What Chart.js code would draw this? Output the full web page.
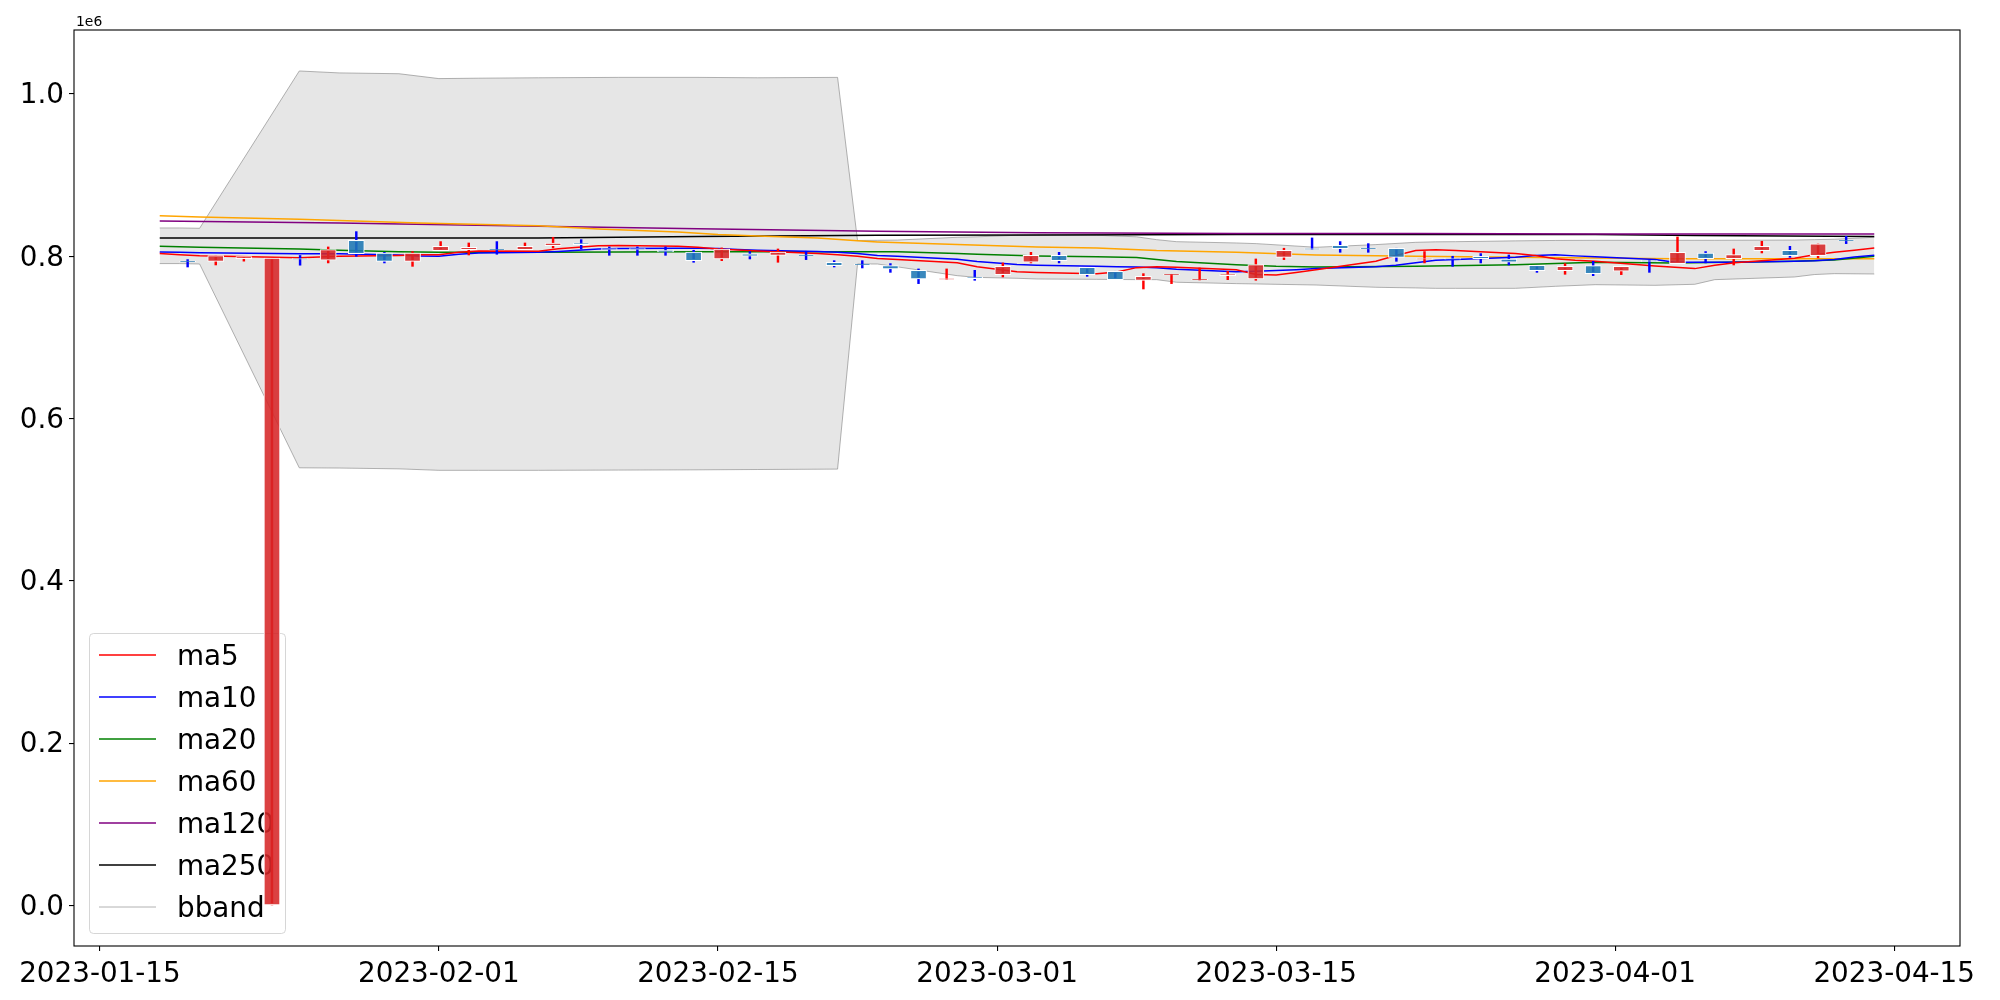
<!DOCTYPE html>
<html>
<head>
<meta charset="utf-8">
<script src="https://cdn.jsdelivr.net/npm/chart.js@4.4.0/dist/chart.umd.min.js"></script>
<style>
  html, body { margin: 0; padding: 0; background: #fff; }
  #wrap { width: 2000px; height: 1000px; }
</style>
</head>
<body>
<div id="wrap"><canvas id="chart" width="2000" height="1000"></canvas></div>
<script>
// x values are days counted from 2023-01-15
const xTickDays = [0, 17, 31, 45, 59, 76, 90];
const xTickLabels = ["2023-01-15", "2023-02-01", "2023-02-15", "2023-03-01", "2023-03-15", "2023-04-01", "2023-04-15"];
const yTickValues = [0, 200000, 400000, 600000, 800000, 1000000];

// trading days (KRX) used by the moving average / band lines
const tradeDays = [3, 4, 5, 10, 11, 12, 15, 16, 17, 18, 19, 22, 23, 24, 25, 26, 29, 30, 31, 32, 33,
  36, 37, 38, 39, 40, 43, 44, 46, 47, 50, 51, 52, 53, 54, 57, 58, 59, 60, 61, 64, 65, 66, 67, 68,
  71, 72, 73, 74, 75, 78, 79, 80, 81, 82, 85, 86, 87, 88, 89];

// candles sit on an evenly spaced grid of their own
const candleFirstDay = 4.4;
const candleStepDays = 1.41;

const opens = [794200, 793800, 797100, 0, 797100, 795100, 819700, 804100, 793800, 807000,
  808200, 808600, 808200, 813100, 816400, 809400, 809400, 807400, 805300, 796700,
  803000, 801200, 801600, 792600, 790100, 788500, 782700, 771600, 774500, 777400,
  792600, 801200, 786400, 781500, 770400, 777000, 770800, 776200, 772000, 798700,
  809400, 813500, 809800, 809900, 796300, 797100, 800000, 796700, 788900, 782300,
  788500, 781500, 794600, 790900, 804100, 797100, 807000, 807400, 800800, 819700];
const closes = [793400, 800800, 799600, 797900, 796300, 808200, 803300, 793800, 804100, 812300,
  811100, 807800, 812300, 816400, 814400, 808600, 808600, 805300, 794600, 809000,
  800000, 805300, 800800, 788500, 789300, 784400, 772000, 772400, 772500, 787600,
  801200, 794600, 777400, 771200, 775300, 777800, 771600, 778200, 789700, 807400,
  808600, 809400, 809000, 798700, 797100, 796300, 797100, 792600, 782300, 787600,
  778600, 787600, 793800, 804900, 797100, 802000, 812300, 800800, 815200, 818900];
const highs = [795900, 800800, 799600, 797900, 801000, 811500, 830400, 804900, 805800, 818100,
  816400, 818100, 816400, 823400, 820500, 811500, 811500, 811500, 807400, 810300,
  805800, 809000, 806200, 794600, 794600, 791000, 784400, 784400, 782700, 791800,
  804900, 804900, 786400, 781500, 778600, 777800, 785600, 781500, 796700, 809900,
  822600, 818100, 815600, 809900, 805800, 800000, 803300, 801600, 788900, 791000,
  793800, 787600, 795100, 823800, 805800, 809000, 818500, 812300, 815200, 824600];
const lows = [786800, 789300, 794000, 0, 789000, 791800, 800000, 791800, 787600, 807000,
  801600, 802500, 808200, 810300, 809000, 801200, 801200, 801200, 792600, 794600,
  796700, 792600, 795900, 786800, 785600, 780200, 766300, 771600, 770400, 774500,
  791800, 791800, 775300, 771200, 759700, 766300, 770800, 771200, 770400, 795900,
  808600, 804900, 804900, 793800, 791800, 787600, 791800, 789300, 780200, 777800,
  776100, 777400, 780200, 790900, 791800, 789300, 804100, 798700, 798000, 815600];

const ma5 = [803300, 802000, 800800, 798200, 799000, 800000, 801000, 801800, 802000, 805000, 806400,
  806200, 809200, 811200, 813000, 813300, 812300, 811000, 809000, 807800, 806600,
  803500, 802000, 800000, 797200, 796000, 792000, 787000, 781000, 780000, 778500, 780500, 786000, 787000, 786500,
  783500, 777500, 777000, 780000, 783500, 794000, 801000, 807000, 808200, 807000,
  803500, 801000, 797000, 795000, 793800, 788000, 786500, 784800, 789000, 792000,
  797500, 802000, 805000, 807500, 810300];
const ma10 = [805300, 805000, 804500, 803000, 803000, 803000, 801500, 800500, 800000, 802500, 804000,
  805000, 806000, 807500, 809000, 809500, 809800, 809800, 809500, 808500, 807500,
  806000, 805000, 803500, 801000, 800000, 796200, 793500, 790000, 789000, 787600, 787200, 786800, 786000, 784000,
  781000, 781500, 782500, 783500, 784800, 787000, 789000, 792000, 795000, 796000,
  798700, 801000, 802000, 800500, 799500, 796000, 792600, 792600, 792600, 792600,
  794000, 794600, 796000, 799000, 801200];

const ma20Days = [3, 5, 10, 12, 15, 17, 22, 26, 30, 40, 43, 44, 47, 50, 52, 53, 54, 57, 59, 61, 66, 71, 75, 79, 85, 87, 89];
const ma20 = [812300, 811000, 809000, 807500, 805700, 805000, 805000, 805300, 805700, 805700, 803300, 802500, 800500,
  799500, 798500, 796000, 793500, 789700, 787600, 786800, 787600, 789700, 792600, 791800, 793800, 795500, 800000];
const ma60Days = [3, 5, 10, 12, 16, 22, 25, 29, 31, 33, 36, 38, 39, 43, 47, 50, 53, 57, 61, 66, 71, 75, 79, 85, 89];
const ma60 = [850000, 848500, 845500, 844000, 841000, 837500, 833500, 830000, 826700, 825000, 822500, 819000, 817700,
  814400, 811500, 810300, 807000, 805000, 801600, 800000, 798700, 797900, 797000, 797000, 797000];
const ma120Days = [3, 12, 22, 30, 39, 47, 57, 66, 75, 89];
const ma120 = [843500, 841000, 837000, 834000, 831000, 829000, 828000, 828000, 827500, 827500];
const ma250Days = [3, 22, 30, 39, 47, 57, 75, 80, 89];
const ma250 = [822600, 822600, 824500, 825900, 826300, 826700, 826700, 825500, 824500];

const bandDays = [3, 4, 5, 10, 12, 15, 17, 19, 22, 26, 30, 33, 37, 38, 39, 40, 43, 44, 46, 47, 50, 52, 53, 54,
  57, 58, 61, 64, 66, 67, 68, 71, 73, 75, 78, 80, 81, 85, 86, 87, 89];
const bandUpper = [834900, 834900, 834500, 1028400, 1026000, 1025000, 1019000, 1019500, 1020000, 1020500, 1020500,
  1020000, 1020500, 819500, 819700, 820000, 823400, 824000, 825900, 826200, 825900, 824000, 820500, 818000,
  816400, 815600, 811100, 814400, 817200, 817800, 818000, 819000, 819500, 819700, 819700, 819700, 819700,
  820000, 820500, 821000, 823400];
const bandLower = [791000, 791000, 790500, 539300, 539000, 538000, 536200, 536200, 536200, 536500, 536800,
  537200, 537700, 790500, 790500, 787000, 776100, 774000, 772900, 772000, 771600, 771200, 771200, 768000,
  766300, 765900, 764600, 761800, 761000, 760500, 760500, 760500, 763000, 765000, 764200, 765500, 771200,
  774500, 777500, 778600, 778200];

const FONT = "DejaVu Sans";
const UP_BODY = "rgba(214,39,40,0.88)";
const DOWN_BODY = "rgba(31,119,180,0.88)";

function toPoints(days, vals) {
  return days.map((d, i) => ({ x: d, y: vals[i] }));
}

const candleDays = opens.map((_, i) => candleFirstDay + i * candleStepDays);
const isUp = opens.map((o, i) => closes[i] >= o);

function lineSet(label, days, vals, color, order) {
  return {
    type: "line", label: label, inLegend: true,
    data: toPoints(days, vals),
    borderColor: color, borderWidth: 1.5,
    pointRadius: 0, tension: 0, fill: false, order: order
  };
}

// legend box drawn inside the plot, under the candles
const boxLegend = {
  id: "boxLegend",
  beforeDatasetsDraw(chart) {
    const ctx = chart.ctx;
    const area = chart.chartArea;
    const items = chart.data.datasets.filter(d => d.inLegend);
    const left = area.left + 15, top = area.bottom - 313, w = 196, h = 300;
    ctx.save();
    ctx.beginPath();
    ctx.roundRect(left + 0.5, top + 0.5, w, h, 4);
    ctx.fillStyle = "rgba(255,255,255,0.8)";
    ctx.fill();
    ctx.strokeStyle = "rgba(204,204,204,0.8)";
    ctx.lineWidth = 1;
    ctx.stroke();
    ctx.font = "27.8px '" + FONT + "'";
    ctx.textBaseline = "middle";
    ctx.fillStyle = "#000";
    items.forEach((d, i) => {
      const y = top + 22 + i * 42;
      ctx.beginPath();
      ctx.moveTo(left + 10, y);
      ctx.lineTo(left + 67, y);
      ctx.strokeStyle = d.borderColor;
      ctx.lineWidth = d.borderWidth;
      ctx.stroke();
      ctx.fillText(d.label, left + 88, y + 3);
    });
    ctx.restore();
  },
  afterDraw(chart) {
    const ctx = chart.ctx;
    const a = chart.chartArea;
    ctx.save();
    ctx.strokeStyle = "#000";
    ctx.lineWidth = 1.1;
    ctx.strokeRect(a.left, a.top, a.right - a.left, a.bottom - a.top);
    ctx.font = "13.9px '" + FONT + "'";
    ctx.fillStyle = "#000";
    ctx.textBaseline = "alphabetic";
    ctx.fillText("1e6", a.left + 2, a.top - 4);
    ctx.restore();
  }
};

const datasets = [
  {
    type: "bar", label: "body",
    data: candleDays.map((d, i) => ({ x: d, y: [opens[i], closes[i]] })),
    backgroundColor: isUp.map(u => u ? UP_BODY : DOWN_BODY),
    borderColor: "#ffffff", borderWidth: 1, borderSkipped: false,
    barThickness: 16, grouped: false, order: 0
  },
  {
    type: "bar", label: "wick",
    data: candleDays.map((d, i) => ({ x: d, y: [lows[i], highs[i]] })),
    backgroundColor: isUp.map(u => u ? "#ff0000" : "#0000ff"),
    borderWidth: 0, barThickness: 1.8, grouped: false, order: 1
  },
  lineSet("ma5", tradeDays, ma5, "red", 2),
  lineSet("ma10", tradeDays, ma10, "blue", 3),
  lineSet("ma20", ma20Days, ma20, "green", 4),
  lineSet("ma60", ma60Days, ma60, "orange", 5),
  lineSet("ma120", ma120Days, ma120, "purple", 6),
  lineSet("ma250", ma250Days, ma250, "black", 7),
  {
    type: "line", label: "bband", inLegend: true,
    data: toPoints(bandDays, bandUpper),
    borderColor: "rgba(128,128,128,0.6)", borderWidth: 1,
    backgroundColor: "rgba(128,128,128,0.2)",
    pointRadius: 0, tension: 0, fill: "+1", order: 10
  },
  {
    type: "line", label: "bband_low",
    data: toPoints(bandDays, bandLower),
    borderColor: "rgba(128,128,128,0.6)", borderWidth: 1,
    pointRadius: 0, tension: 0, fill: false, order: 11
  }
];

new Chart(document.getElementById("chart"), {
  type: "line",
  data: { datasets: datasets },
  plugins: [boxLegend],
  options: {
    responsive: false,
    animation: false,
    events: [],
    layout: { padding: { top: 30, right: 40, left: 0, bottom: 0 } },
    plugins: { legend: { display: false }, tooltip: { enabled: false } },
    scales: {
      x: {
        type: "linear", min: -1.3, max: 93.3, offset: false,
        grid: { drawOnChartArea: false, drawTicks: true, tickLength: 5, color: "#000", lineWidth: 1.1, offset: false },
        border: { display: false },
        afterBuildTicks: s => { s.ticks = xTickDays.map(v => ({ value: v })); },
        afterFit: s => { s.height = 54; },
        ticks: {
          autoSkip: false, maxRotation: 0, padding: 7.5, color: "#000",
          font: { family: FONT, size: 27.8 },
          callback: v => xTickLabels[xTickDays.indexOf(v)]
        }
      },
      y: {
        type: "linear", min: -50100, max: 1078900,
        grid: { drawOnChartArea: false, drawTicks: true, tickLength: 5, color: "#000", lineWidth: 1.1 },
        border: { display: false },
        afterBuildTicks: s => { s.ticks = yTickValues.map(v => ({ value: v })); },
        afterFit: s => { s.width = 74; },
        ticks: {
          padding: 5, color: "#000", labelOffset: 2,
          font: { family: FONT, size: 27.8 },
          callback: v => (v / 1e6).toFixed(1)
        }
      }
    }
  }
});
</script>
</body>
</html>
